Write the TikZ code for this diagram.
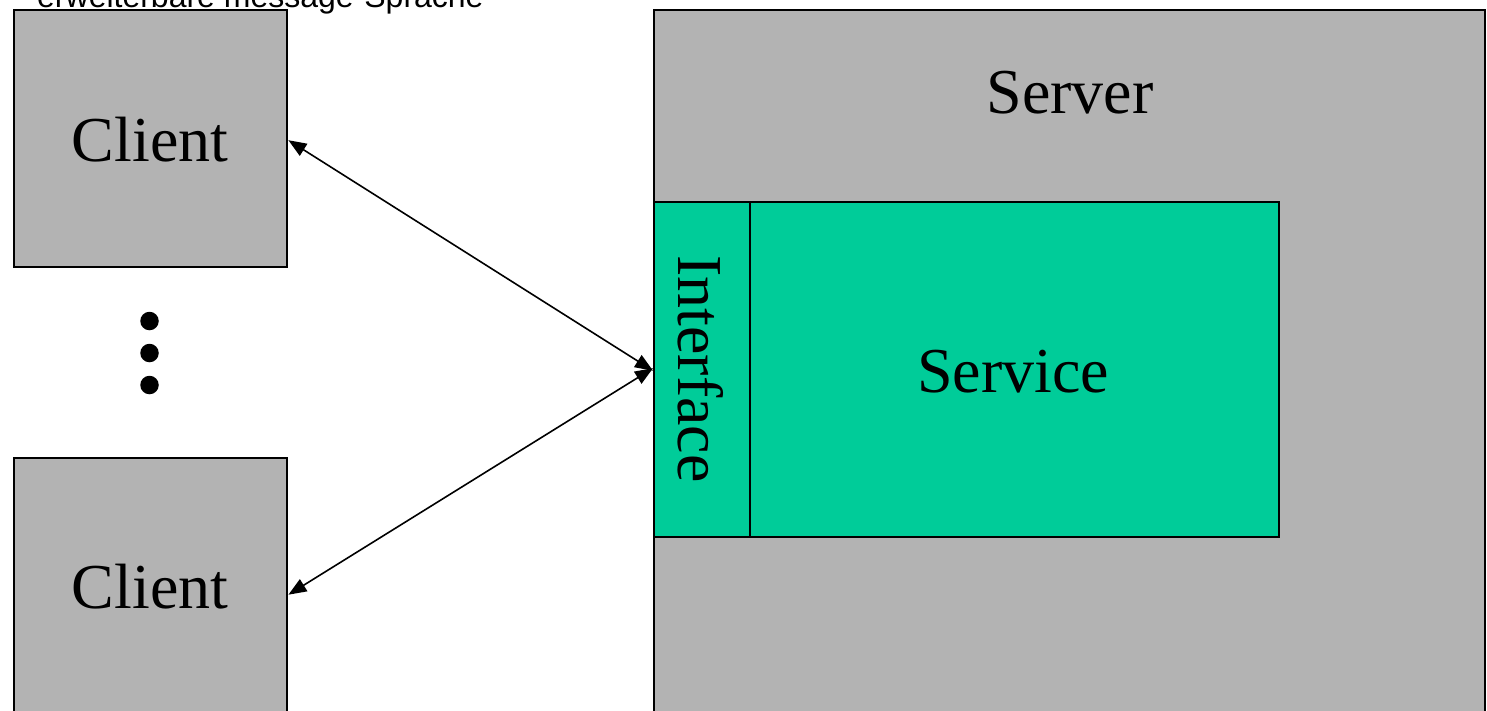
\documentclass[tikz,border=0pt]{standalone}
\usepackage{fontspec}
\setmainfont{Liberation Serif}
\newfontfamily\arialfont{Liberation Sans}
\usetikzlibrary{arrows.meta,positioning}
\definecolor{boxgray}{RGB}{179,179,179}
\definecolor{svcgreen}{RGB}{0,204,153}
\tikzset{
  graybox/.style={draw=black, fill=boxgray, line width=2.4pt, inner sep=0pt, anchor=north west},
  greenbox/.style={draw=black, fill=svcgreen, line width=2.4pt, inner sep=0pt, anchor=north west},
  bigtext/.style={font=\fontsize{64}{64}\selectfont, inner sep=0pt},
  link/.style={line width=1.6pt, {Triangle[length=18pt,width=14pt]}-{Triangle[length=18pt,width=14pt]}},
  dot/.style={circle, fill=black, minimum size=18.5pt, inner sep=0pt}
}
\begin{document}
\begin{tikzpicture}[x=1pt,y=-1pt]
\useasboundingbox (0,0) rectangle (1487,710);
\clip (0,0) rectangle (1487,710);

% caption
\node[font=\arialfont\fontsize{32}{32}\selectfont, inner sep=0pt, anchor=base west] (caption) at (37,7) {erweiterbare message-Sprache};

% clients
\node[graybox, minimum width=273pt, minimum height=257pt] (client1) at (13,9) {};
\node[graybox, minimum width=273pt, minimum height=264pt] (client2) at (13,456.5) {};
\node[bigtext] (c1text) at (150,140) {Client};
\node[bigtext] (c2text) at (150,587) {Client};

% ellipsis between the clients
\node[dot] (d1) at (149.5,321) {};
\node[dot] (d2) at (149.5,353) {};
\node[dot] (d3) at (149.5,385) {};

% server with interface and service
\node[graybox, minimum width=831pt, minimum height=720pt] (server) at (653,9) {};
\node[bigtext] (srvtext) at (1070,93) {Server};
\node[greenbox, minimum width=96pt, minimum height=335pt] (iface) at (653,201) {};
\node[greenbox, minimum width=529pt, minimum height=335pt] (service) at (749,201) {};
\node[bigtext, rotate=-90] (iftext) at (701,369) {Interface};
\node[bigtext] (svctext) at (1013,372) {Service};

% message links
\draw[link] ([yshift=-1.5pt]client1.east) -- ([yshift=-1pt]iface.west);
\draw[link] ([yshift=1.5pt]iface.west) -- ([yshift=-5pt]client2.east);
\end{tikzpicture}
\end{document}
